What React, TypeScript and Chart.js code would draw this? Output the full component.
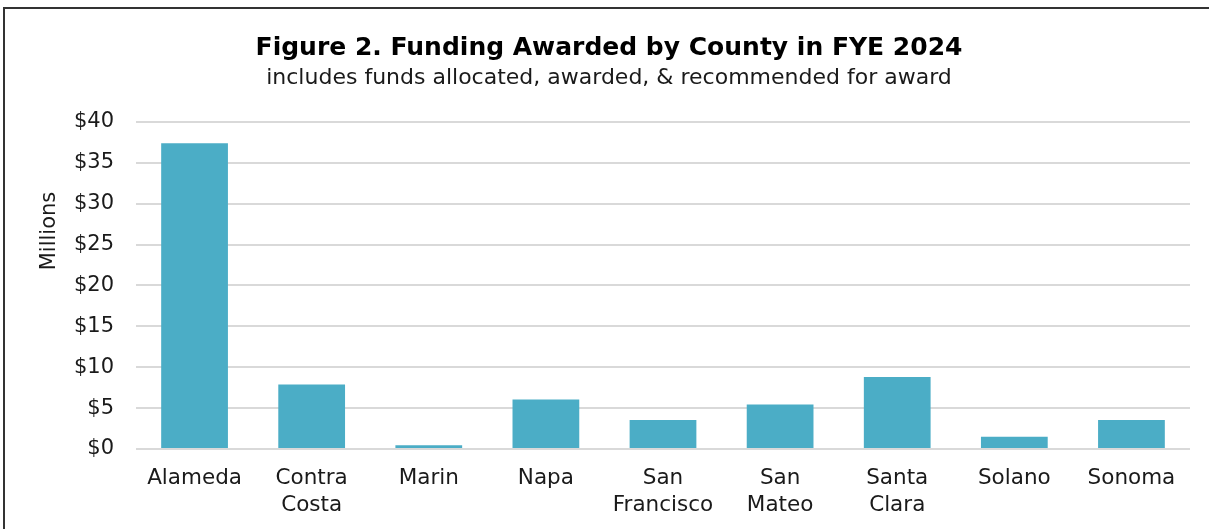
import React, { useEffect, useRef } from "react";
import { Chart, registerables } from "chart.js";

Chart.register(...registerables);

const counties: (string | string[])[] = [
  "Alameda",
  ["Contra", "Costa"],
  "Marin",
  "Napa",
  ["San", "Francisco"],
  ["San", "Mateo"],
  ["Santa", "Clara"],
  "Solano",
  "Sonoma",
];
const fundingMillions = [37.4, 7.9, 0.45, 6.05, 3.55, 5.45, 8.8, 1.5, 3.55];
const yTicks = [0, 5, 10, 15, 20, 25, 30, 35, 40];

const titleText = "Figure 2. Funding Awarded by County in FYE 2024";
const subtitleText = "includes funds allocated, awarded, & recommended for award";
const yAxisTitle = "Millions";

const FONT = "'DejaVu Sans', sans-serif";

const yTitlePlugin = {
  id: "yTitlePlugin",
  afterDraw(chart: any) {
    const ctx = chart.ctx;
    ctx.save();
    ctx.translate(50, 231);
    ctx.rotate(-Math.PI / 2);
    ctx.font = `21px ${FONT}`;
    ctx.fillStyle = "#1a1a1a";
    ctx.textAlign = "center";
    ctx.textBaseline = "middle";
    ctx.fillText(yAxisTitle, 0, 0);
    ctx.restore();
  },
};

export default function App() {
  const ref = useRef<HTMLCanvasElement | null>(null);
  useEffect(() => {
    if (!ref.current) return;
    const chart = new Chart(ref.current, {
      type: "bar",
      data: {
        labels: counties,
        datasets: [
          {
            data: fundingMillions,
            backgroundColor: "#4BADC6",
            borderWidth: 0,
            categoryPercentage: 1,
            barPercentage: 0.57,
          },
        ],
      },
      plugins: [yTitlePlugin],
      options: {
        animation: false,
        responsive: false,
        maintainAspectRatio: false,
        layout: { padding: { left: 28, right: 19, top: 0, bottom: 0 } },
        plugins: {
          legend: { display: false },
          tooltip: { enabled: false },
          title: {
            display: true,
            text: titleText,
            color: "#000",
            font: { family: FONT, size: 25, weight: "bold", lineHeight: 1.2 },
            padding: { top: 33, bottom: 2.5 },
          },
          subtitle: {
            display: true,
            text: subtitleText,
            color: "#1a1a1a",
            font: { family: FONT, size: 22, lineHeight: 1.2 },
            padding: { top: 0, bottom: 30 },
          },
        },
        scales: {
          x: {
            grid: { display: false, drawTicks: false },
            border: { display: false },
            ticks: {
              color: "#1a1a1a",
              font: { family: FONT, size: 21.5, lineHeight: 1.25 },
              padding: 16,
              maxRotation: 0,
              autoSkip: false,
            },
            afterFit(scale: any) {
              scale.height = 80;
            },
          },
          y: {
            min: 0,
            max: 40,
            afterBuildTicks(scale: any) {
              scale.ticks = yTicks.map((v) => ({ value: v }));
            },
            grid: { color: "#D9D9D9", lineWidth: 2, drawTicks: false },
            border: { display: false },
            ticks: {
              color: "#1a1a1a",
              font: { family: FONT, size: 21 },
              padding: 22,
              callback: (v: any) => "$" + v,
            },
            afterFit(scale: any) {
              scale.width = 108;
            },
          },
        },
      },
    });
    return () => chart.destroy();
  }, []);

  return (
    <div
      style={{
        position: "fixed",
        left: 0,
        top: 0,
        width: 1209,
        height: 529,
        overflow: "hidden",
        background: "#fff",
      }}
    >
      <div
        style={{
          position: "absolute",
          left: 3,
          top: 7,
          width: 1260,
          height: 580,
          border: "2px solid #333",
          boxSizing: "border-box",
        }}
      />
      <canvas
        ref={ref}
        width={1209}
        height={529}
        style={{ position: "absolute", left: 0, top: 0, width: 1209, height: 529 }}
      />
    </div>
  );
}
